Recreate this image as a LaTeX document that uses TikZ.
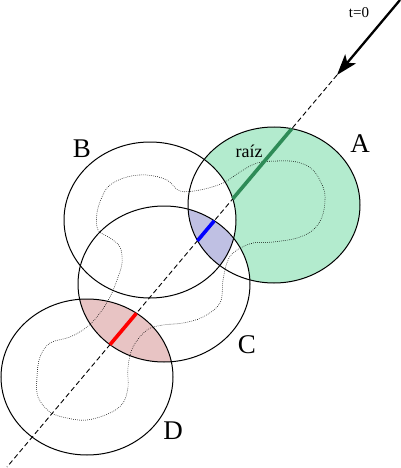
\documentclass[tikz,border=0pt]{standalone}
\usepackage{fontspec}
\setmainfont{Liberation Serif}
\usetikzlibrary{arrows.meta,calc}
\definecolor{cverdeclaro}{HTML}{B3EBCE}
\definecolor{clila}{HTML}{BFC0E3}
\definecolor{crosa}{HTML}{E8C4C4}
\definecolor{cverde}{HTML}{2E8B57}
\tikzset{
  ovalo/.style={x radius=86pt, y radius=78pt},
  borde/.style={draw=black, line width=1pt},
  punteado/.style={draw=black, line width=0.55pt, dash pattern=on 0.7pt off 1.3pt},
  trayecto/.style={draw=black, line width=0.9pt, dash pattern=on 5pt off 3pt},
  flecha/.style={-{Stealth[length=21pt, width=14pt, inset=5pt]}, line width=2.3pt, draw=black},
  tramo/.style={line width=3.6pt},
  letra/.style={font=\fontsize{27}{27}\selectfont, anchor=base},
  etq/.style={font=\fontsize{18}{18}\selectfont, anchor=base},
  etqp/.style={font=\fontsize{15}{15}\selectfont, anchor=base},
}
\begin{document}
\begin{tikzpicture}[x=1pt, y=-1pt]
  \useasboundingbox (0,0) rectangle (400,468);
  \coordinate (A) at (274,205);
  \coordinate (B) at (150,220);
  \coordinate (C) at (164,284);
  \coordinate (D) at (87,377);

  % zonas coloreadas
  \fill[cverdeclaro] (A) ellipse[ovalo];
  \begin{scope}
    \clip (A) ellipse[ovalo];
    \fill[white] (B) ellipse[ovalo];
    \fill[white] (C) ellipse[ovalo];
    \clip (B) ellipse[ovalo];
    \clip (C) ellipse[ovalo];
    \fill[clila] (A) ellipse[ovalo];
  \end{scope}
  \begin{scope}
    \clip (C) ellipse[ovalo];
    \fill[crosa] (D) ellipse[ovalo];
  \end{scope}

  % contorno punteado
  \draw[punteado] plot[smooth cycle, tension=0.6] coordinates {
    (180,191) (200,190) (223,183) (240,172) (257,163) (277,161) (297,162)
    (313,170) (323,187) (325,200) (322,217) (313,230) (297,238) (273,242)
    (253,243) (237,250) (228,260) (223,280) (220,303) (203,317) (183,323)
    (163,325) (147,330) (133,347) (128,367) (128,387) (123,403) (110,413)
    (87,420) (67,418) (50,412) (38,397) (37,377) (40,357) (50,343) (70,337)
    (87,327) (100,313) (110,297) (117,280) (122,263) (120,247) (110,238)
    (98,230) (97,213) (102,197) (110,185) (127,177) (147,175) (167,180)};

  \foreach \e in {A,B,C,D}
    \draw[borde] (\e) ellipse[ovalo];

  % trayectoria
  \coordinate (ini) at (337,75);
  \coordinate (fin) at (7,467);
  \coordinate (origen) at (400,0);
  \draw[trayecto] (ini) -- (fin);
  \draw[flecha] (origen) -- (ini);
  \draw[tramo, cverde] ($(ini)!0.137!(fin)$) -- ($(ini)!0.316!(fin)$);
  \draw[tramo, blue] ($(ini)!0.372!(fin)$) -- ($(ini)!0.423!(fin)$);
  \draw[tramo, red] ($(ini)!0.608!(fin)$) -- ($(ini)!0.688!(fin)$);

  \node[letra] (etA) at (360,152) {A};
  \node[letra] (etB) at (82,157) {B};
  \node[letra] (etC) at (247,353) {C};
  \node[letra] (etD) at (173,439) {D};
  \node[etq] (raiz) at (249,157) {raíz};
  \node[etqp] (t0) at (359,18) {t=0};
\end{tikzpicture}
\end{document}
